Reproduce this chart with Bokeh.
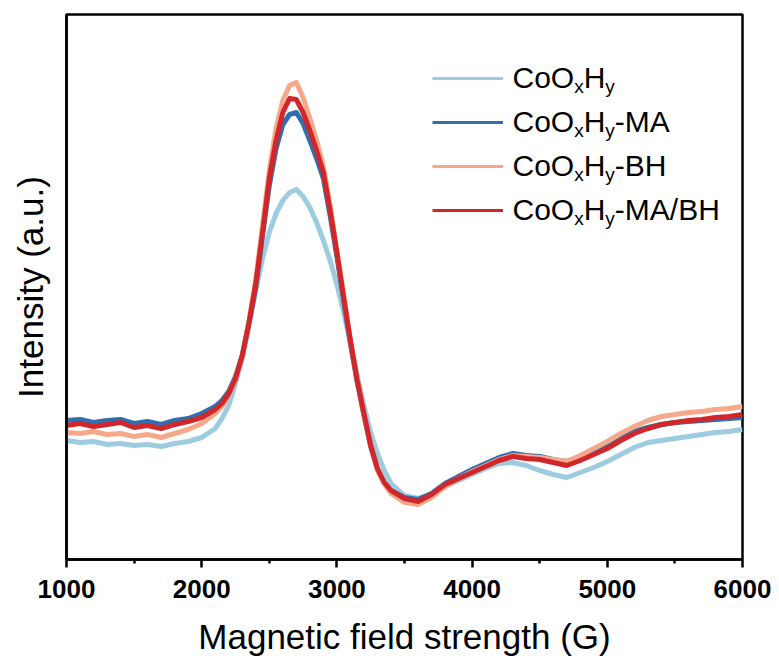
from bokeh.plotting import figure
from bokeh.models import Range1d, FixedTicker, Legend, LegendItem, Label, LinearAxis
from bokeh.core.properties import value
from bokeh.embed import file_html
from bokeh.resources import INLINE

# ---------------- data ----------------
field = [1000, 1100, 1200, 1300, 1400, 1500, 1600, 1700, 1800, 1900, 2000, 2100,
         2150, 2200, 2250, 2300, 2350, 2400, 2450, 2500, 2550, 2600, 2650, 2700,
         2750, 2800, 2850, 2900, 2950, 3000, 3050, 3100, 3150, 3200, 3250, 3300, 3350,
         3400, 3500, 3600, 3700, 3800, 3900, 4000, 4100, 4200, 4300, 4400, 4500,
         4600, 4700, 4800, 4900, 5000, 5100, 5200, 5300, 5400, 5500, 5600, 5700,
         5800, 5900, 6000]

coo = [119, 117, 118, 115, 116, 114, 115, 113, 116, 118, 122, 131,
       141, 154, 176, 201, 234, 269, 301, 327, 346, 359, 367, 370,
       363, 352, 337, 319, 299, 275, 247, 216, 184, 154, 127, 106, 89,
       76, 64, 61, 65, 73, 79, 85, 91, 96, 97, 94, 89,
       85, 82, 87, 92, 98, 105, 112, 117, 119, 121, 123, 125,
       127, 128, 130]

coo_ma = [139, 140, 137, 139, 140, 136, 138, 135, 139, 141, 146, 153,
          159, 168, 183, 204, 237, 272, 324, 374, 411, 435, 445, 447,
          436, 419, 401, 381, 344, 303, 259, 216, 178, 144, 113, 90, 77,
          69, 62, 60, 66, 76, 83, 90, 96, 102, 106, 104, 103,
          100, 98, 102, 109, 115, 122, 128, 132, 135, 137, 138, 139,
          140, 141, 142]

coo_bh = [127, 126, 128, 125, 126, 123, 125, 122, 126, 130, 136, 146,
          153, 164, 181, 203, 239, 280, 334, 389, 431, 459, 474, 477,
          462, 441, 419, 393, 354, 309, 265, 219, 181, 145, 114, 89, 76,
          66, 57, 55, 62, 73, 81, 88, 94, 100, 104, 103, 102,
          100, 98, 104, 111, 118, 126, 133, 139, 143, 145, 147, 148,
          150, 151, 153]

coo_mabh = [134, 136, 133, 135, 137, 132, 134, 131, 135, 138, 142, 150,
            156, 166, 181, 204, 237, 276, 327, 381, 419, 447, 461, 460,
            447, 429, 409, 387, 349, 307, 262, 219, 179, 146, 114, 91, 77,
            69, 61, 58, 65, 75, 81, 87, 93, 99, 103, 101, 100,
            97, 94, 99, 105, 111, 119, 126, 131, 135, 137, 139, 140,
            142, 143, 145]

series_names = ["CoOxHy", "CoOxHy-MA", "CoOxHy-BH", "CoOxHy-MA/BH"]
legend_suffix = ["", "-MA", "-BH", "-MA/BH"]
x_ticks = [1000, 2000, 3000, 4000, 5000, 6000]
x_minor_ticks = [1500, 2500, 3500, 4500, 5500]

colors = ["#9dcbe0", "#2f6fae", "#f6a88a", "#d2272a"]

# ---------------- figure ----------------
W, H = 779, 663
BL, BR, BT, BB = 66, 37, 14, 104
p = figure(width=W, height=H, output_backend="svg", toolbar_location=None,
           x_range=Range1d(1000, 6000), y_range=Range1d(0, 545),
           min_border_left=BL, min_border_right=BR, min_border_top=BT,
           min_border_bottom=BB, x_axis_type=None, y_axis_type=None)
p.xgrid.visible = False
p.ygrid.visible = False
p.outline_line_color = "black"
p.outline_line_width = 2.5
p.background_fill_color = "white"
p.border_fill_color = "white"

FONT = "Liberation Sans"

xaxis = LinearAxis(ticker=FixedTicker(ticks=x_ticks, minor_ticks=x_minor_ticks),
                   axis_label="Magnetic field strength (G)")
xaxis.axis_line_width = 2.5
xaxis.major_tick_line_width = 2.5
xaxis.minor_tick_line_width = 2.5
xaxis.major_tick_out = 8
xaxis.major_tick_in = 0
xaxis.minor_tick_out = 4
xaxis.minor_tick_in = 0
xaxis.major_label_text_font = FONT
xaxis.major_label_text_font_style = "bold"
xaxis.major_label_text_font_size = "26px"
xaxis.major_label_text_color = "black"
xaxis.major_label_standoff = 12
xaxis.axis_label_text_font = FONT
xaxis.axis_label_text_font_style = "normal"
xaxis.axis_label_text_font_size = "35px"
xaxis.axis_label_text_color = "black"
xaxis.axis_label_standoff = 16
p.add_layout(xaxis, "below")

yaxis = LinearAxis(ticker=FixedTicker(ticks=[]), axis_label="Intensity (a.u.)")
yaxis.axis_line_width = 2.5
yaxis.major_tick_out = 0
yaxis.major_tick_in = 0
yaxis.minor_tick_out = 0
yaxis.minor_tick_in = 0
yaxis.axis_label_text_font = FONT
yaxis.axis_label_text_font_style = "normal"
yaxis.axis_label_text_font_size = "35px"
yaxis.axis_label_text_color = "black"
yaxis.axis_label_standoff = 17
p.add_layout(yaxis, "left")

all_series = [coo, coo_ma, coo_bh, coo_mabh]
for ys, c in zip(all_series, colors):
    p.line(field, ys, line_color=c, line_width=5, line_join="round")

# legend samples (placeholder renderers so sample lines are thinner)
nan = float("nan")
items = []
for name, c in zip(series_names, colors):
    r = p.line([nan], [nan], line_color=c, line_width=3)
    items.append(LegendItem(label=value(" "), renderers=[r]))

ROW = 44
legend = Legend(items=items, location=(366, 327), glyph_width=71, glyph_height=ROW,
                label_height=ROW, spacing=0, padding=0, margin=0, label_standoff=0,
                border_line_alpha=0, background_fill_alpha=0,
                label_text_font_size="10px")
p.add_layout(legend)

# legend texts with subscripts
frame_w = W - BL - BR
frame_h = H - BT - BB
text_px = 446  # frame-relative left of the text
x_anchor = 1000 + text_px * (6000 - 1000) / frame_w
first_baseline = 63  # from frame top
big, small = 30, 19
w_coo = 2.056 * big
w_sub = 0.5 * small
w_h = 0.722 * big
for i, suf in enumerate(legend_suffix):
    y_anchor = frame_h - (first_baseline + i * ROW)
    pieces = [("CoO", big, 0.0, 0),
              ("x", small, w_coo, -9),
              ("H", big, w_coo + w_sub, 0),
              ("y", small, w_coo + w_sub + w_h, -9)]
    if suf:
        pieces.append((suf, big, w_coo + w_sub + w_h + w_sub, 0))
    for txt, fs, xo, yo in pieces:
        p.add_layout(Label(x=x_anchor, y=y_anchor, x_offset=xo, y_offset=yo, text=txt,
                           text_font=FONT, text_font_size=f"{fs}px",
                           text_color="black", text_baseline="alphabetic",
                           text_align="left"))

open("out.html", "w").write(file_html(p, INLINE))
